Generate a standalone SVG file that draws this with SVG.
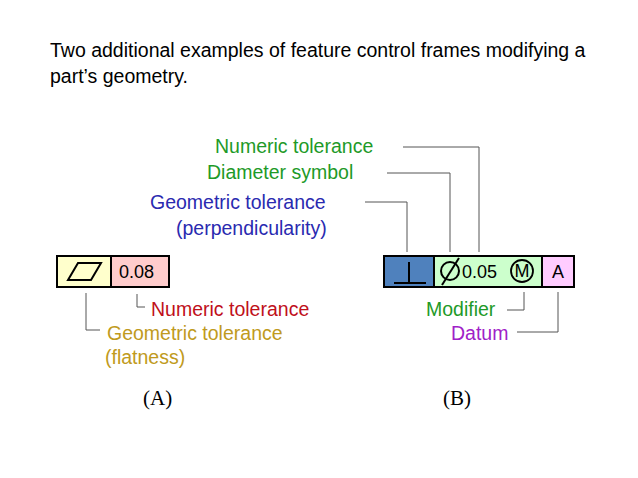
<svg xmlns="http://www.w3.org/2000/svg" width="638" height="478" viewBox="0 0 638 478">
<style>
text{font-family:"Liberation Sans",Arial,sans-serif;font-size:19.5px}
.box{stroke:#000;stroke-width:2}
.ld{fill:none;stroke:#555;stroke-width:1}
.g{fill:#1e9a28}.b{fill:#2a2ab0}.r{fill:#c0101a}.y{fill:#c09a20}.p{fill:#a020c8}
.cap{font-family:"Liberation Serif",serif;font-size:21px}
.in{font-size:18px}
</style>
<rect width="638" height="478" fill="#fff"/>
<text x="50" y="57">Two additional examples of feature control frames modifying a</text>
<text x="50" y="83">part’s geometry.</text>
<g id="frameA">
<rect class="box" x="57" y="256" width="54" height="31" fill="#ffffcc"/>
<rect class="box" x="111" y="256" width="58" height="31" fill="#ffcccc"/>
<polygon points="68,280 78,263 101,263 91,280" fill="none" stroke="#000" stroke-width="2"/>
<text class="in" x="119" y="278">0.08</text>
</g>
<g id="frameB">
<rect class="box" x="384" y="256" width="50" height="31" fill="#4f81bd"/>
<rect class="box" x="434" y="256" width="108" height="31" fill="#ccffcc"/>
<rect class="box" x="542" y="256" width="32" height="31" fill="#ffccff"/>
<path d="M394,283H426M409,283V262" stroke="#000" stroke-width="2" fill="none"/>
<circle cx="450" cy="271" r="9" fill="none" stroke="#000" stroke-width="2"/>
<line x1="442" y1="285" x2="459" y2="258" stroke="#000" stroke-width="2"/>
<text class="in" x="462" y="278">0.05</text>
<circle cx="522" cy="271" r="11" fill="none" stroke="#000" stroke-width="1.8"/>
<text class="in" x="522" y="277" text-anchor="middle">M</text>
<text class="in" x="558" y="278" text-anchor="middle">A</text>
</g>
<g id="connectors">
<path class="ld" d="M137,294V307H145"/>
<path class="ld" d="M86,293V330H100"/>
<path class="ld" d="M365,202H407V252"/>
<path class="ld" d="M387,173H450V252"/>
<path class="ld" d="M403,147H479V252"/>
<path class="ld" d="M524,292V310H507"/>
<path class="ld" d="M558,292V332H517"/>
</g>
<g id="labels">
<text class="g" x="215" y="153">Numeric tolerance</text>
<text class="g" x="207" y="179">Diameter symbol</text>
<text class="b" x="150" y="209">Geometric tolerance</text>
<text class="b" x="176" y="235">(perpendicularity)</text>
<text class="r" x="151" y="316">Numeric tolerance</text>
<text class="y" x="107" y="340">Geometric tolerance</text>
<text class="y" x="105" y="364">(flatness)</text>
<text class="g" x="426" y="316">Modifier</text>
<text class="p" x="451" y="340">Datum</text>
<text class="cap" x="143" y="405">(A)</text>
<text class="cap" x="443" y="405">(B)</text>
</g>
</svg>
